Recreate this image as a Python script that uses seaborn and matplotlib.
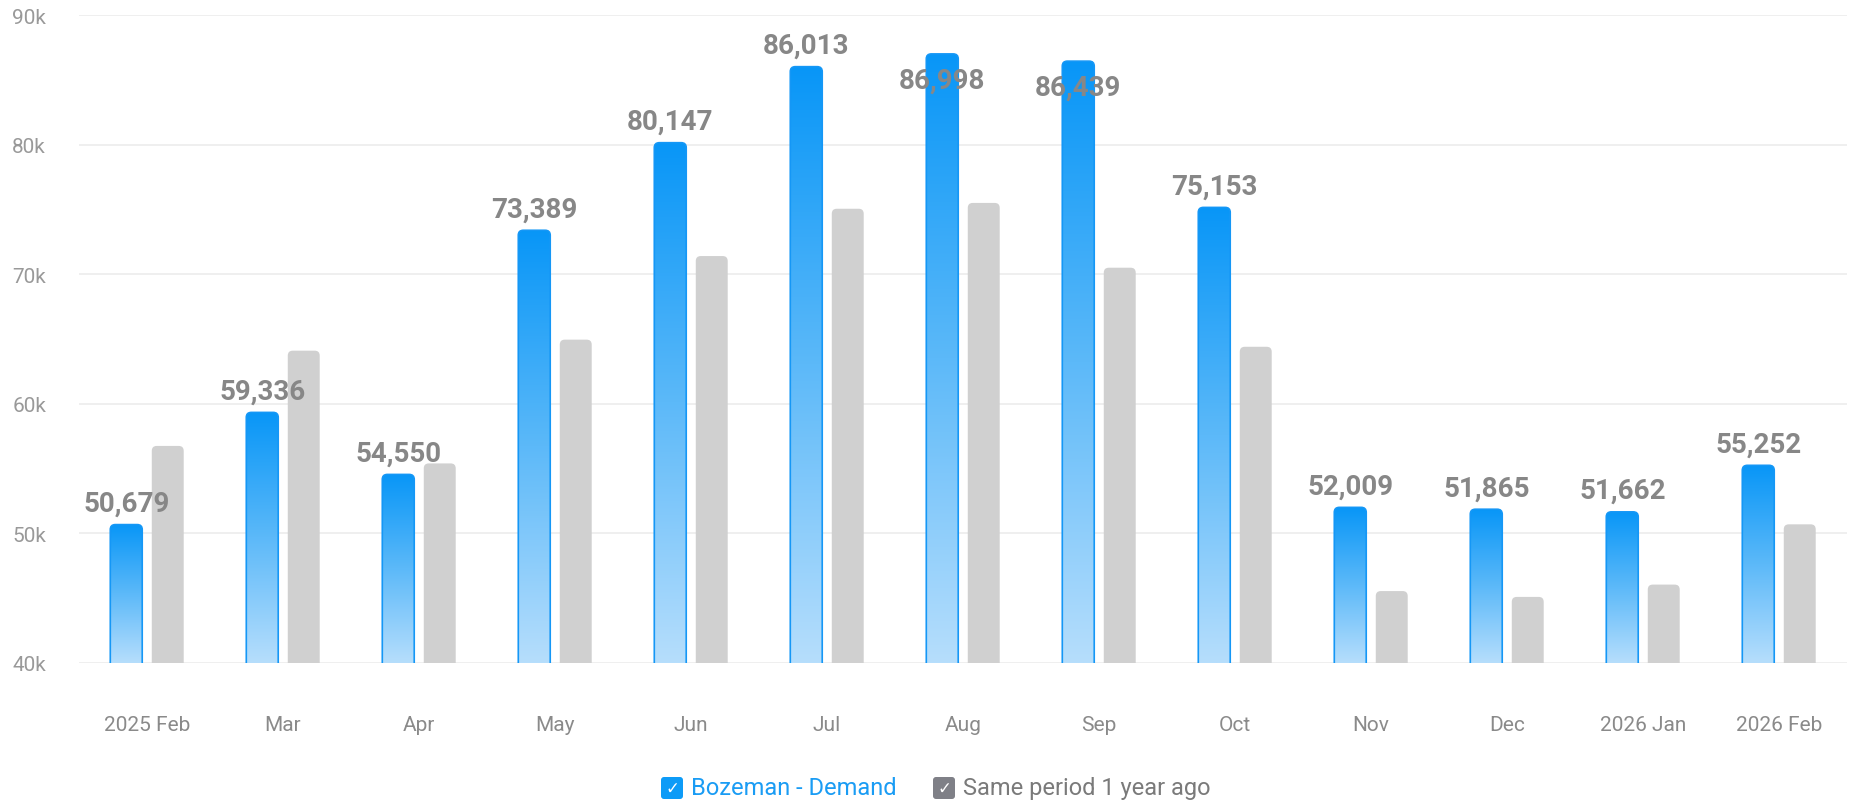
import numpy as np
import pandas as pd
import matplotlib
matplotlib.use("Agg")
import matplotlib.pyplot as plt
import seaborn as sns
from matplotlib.patches import FancyBboxPatch
from matplotlib.colors import LinearSegmentedColormap
from matplotlib.transforms import IdentityTransform

# ---------------- data ----------------
months = ["2025 Feb", "Mar", "Apr", "May", "Jun", "Jul", "Aug", "Sep",
          "Oct", "Nov", "Dec", "2026 Jan", "2026 Feb"]
demand = [50679, 59336, 54550, 73389, 80147, 86013, 86998, 86439,
          75153, 52009, 51865, 51662, 55252]
last_year = [56750, 64100, 55400, 64950, 71400, 75050, 75500, 70500,
             64400, 45550, 45100, 46050, 50700]
series_names = ["Bozeman - Demand", "Same period 1 year ago"]
y_ticks = [40000, 50000, 60000, 70000, 80000, 90000]
y_tick_labels = ["40k", "50k", "60k", "70k", "80k", "90k"]

# ---------------- style ----------------
sns.set_theme(style="white")
plt.rcParams["font.family"] = ["Roboto", "DejaVu Sans"]

W, H = 1852, 803
fig = plt.figure(figsize=(W / 100, H / 100), dpi=100)
ax_l, ax_r, ax_t, ax_b = 79, 1847, 16, 664
ax = fig.add_axes([ax_l / W, (H - ax_b) / H, (ax_r - ax_l) / W, (ax_b - ax_t) / H])

df = pd.DataFrame({
    "month": months * 2,
    "value": demand + last_year,
    "series": [series_names[0]] * len(months) + [series_names[1]] * len(months),
})

sns.barplot(data=df, x="month", y="value", hue="series",
            palette=["#0a9af8", "#d0d0d0"], width=0.61, gap=0.23,
            errorbar=None, legend=False, ax=ax)

ymin, ymax = y_ticks[0], y_ticks[-1]
ax.set_ylim(ymin, ymax)
ax.set_xlim(-0.5, len(months) - 0.5)

# pixel scales for rounded corners
px_per_x = (ax_r - ax_l) / len(months)
px_per_y = (ax_b - ax_t) / (ymax - ymin)
r_px = 5
r_x = r_px / px_per_x
aspect = px_per_x / px_per_y

cmap = LinearSegmentedColormap.from_list("blue_grad", ["#b6defc", "#5cb9f9", "#0896f7"])
grad = np.linspace(0, 1, 256).reshape(-1, 1)

blue_bars = list(ax.containers[0])
gray_bars = list(ax.containers[1])

for bar in gray_bars:
    x0, w, h = bar.get_x(), bar.get_width(), bar.get_height()
    bar.set_visible(False)
    p = FancyBboxPatch((x0, 0), w, h,
                       boxstyle=f"round,pad=0,rounding_size={r_x}",
                       mutation_aspect=aspect, facecolor="#d0d0d0",
                       edgecolor="none", zorder=2)
    ax.add_patch(p)

for bar in blue_bars:
    x0, w, h = bar.get_x(), bar.get_width(), bar.get_height()
    bar.set_visible(False)
    clip = FancyBboxPatch((x0, 0), w, h,
                          boxstyle=f"round,pad=0,rounding_size={r_x}",
                          mutation_aspect=aspect, facecolor="none",
                          edgecolor="#1597f6", linewidth=1.2, zorder=3)
    ax.add_patch(clip)
    im = ax.imshow(grad, cmap=cmap, origin="lower", aspect="auto",
                   extent=(x0, x0 + w, ymin, h), zorder=2, interpolation="bilinear")
    im.set_clip_path(clip)

    # value labels (the two tallest bars get their label pushed inside)
    cx = x0 + w / 2
    label = f"{int(h):,}"
    if h > 86300:
        ax.annotate(label, (cx, h), xytext=(0, -19), textcoords="offset points",
                    ha="center", va="center", fontsize=20, fontweight="bold",
                    color="#878787", zorder=5)
    else:
        ax.annotate(label, (cx, h), xytext=(0, 10), textcoords="offset points",
                    ha="center", va="baseline", fontsize=20, fontweight="bold",
                    color="#878787", zorder=5)

ax.set_xlim(-0.5, len(months) - 0.5)
ax.set_ylim(ymin, ymax)

ax.set_yticks(y_ticks)
ax.set_yticklabels(y_tick_labels)
ax.set_xlabel("")
ax.set_ylabel("")
ax.tick_params(axis="x", length=0, pad=37.5, labelsize=15, labelcolor="#8a8a8a")
ax.tick_params(axis="y", length=0, pad=48, labelsize=15, labelcolor="#999999")
for lab in ax.get_yticklabels():
    lab.set_horizontalalignment("left")

ax.set_axisbelow(True)
ax.yaxis.grid(True, color="#ececec", linewidth=1.2)
ax.xaxis.grid(False)
for s in ax.spines.values():
    s.set_visible(False)

# ---------------- legend ----------------
ly = H - 789
box = 22
items = [
    (661, series_names[0], "#0d9bf7", "#1a9cf4"),
    (933, series_names[1], "#7f8087", "#7a7a7a"),
]
for bx, name, boxcol, txtcol in items:
    p = FancyBboxPatch((bx, ly - box / 2), box, box,
                       boxstyle="round,pad=0,rounding_size=3",
                       facecolor=boxcol, edgecolor="none",
                       transform=IdentityTransform())
    fig.add_artist(p)
    fig.text((bx + box / 2) / W, ly / H, "✓", color="white", fontsize=12,
             ha="center", va="center", family=["DejaVu Sans"])
    fig.text((bx + box + 8) / W, ly / H, name, color=txtcol, fontsize=17,
             ha="left", va="center")

fig.savefig("out.png", dpi=100)
